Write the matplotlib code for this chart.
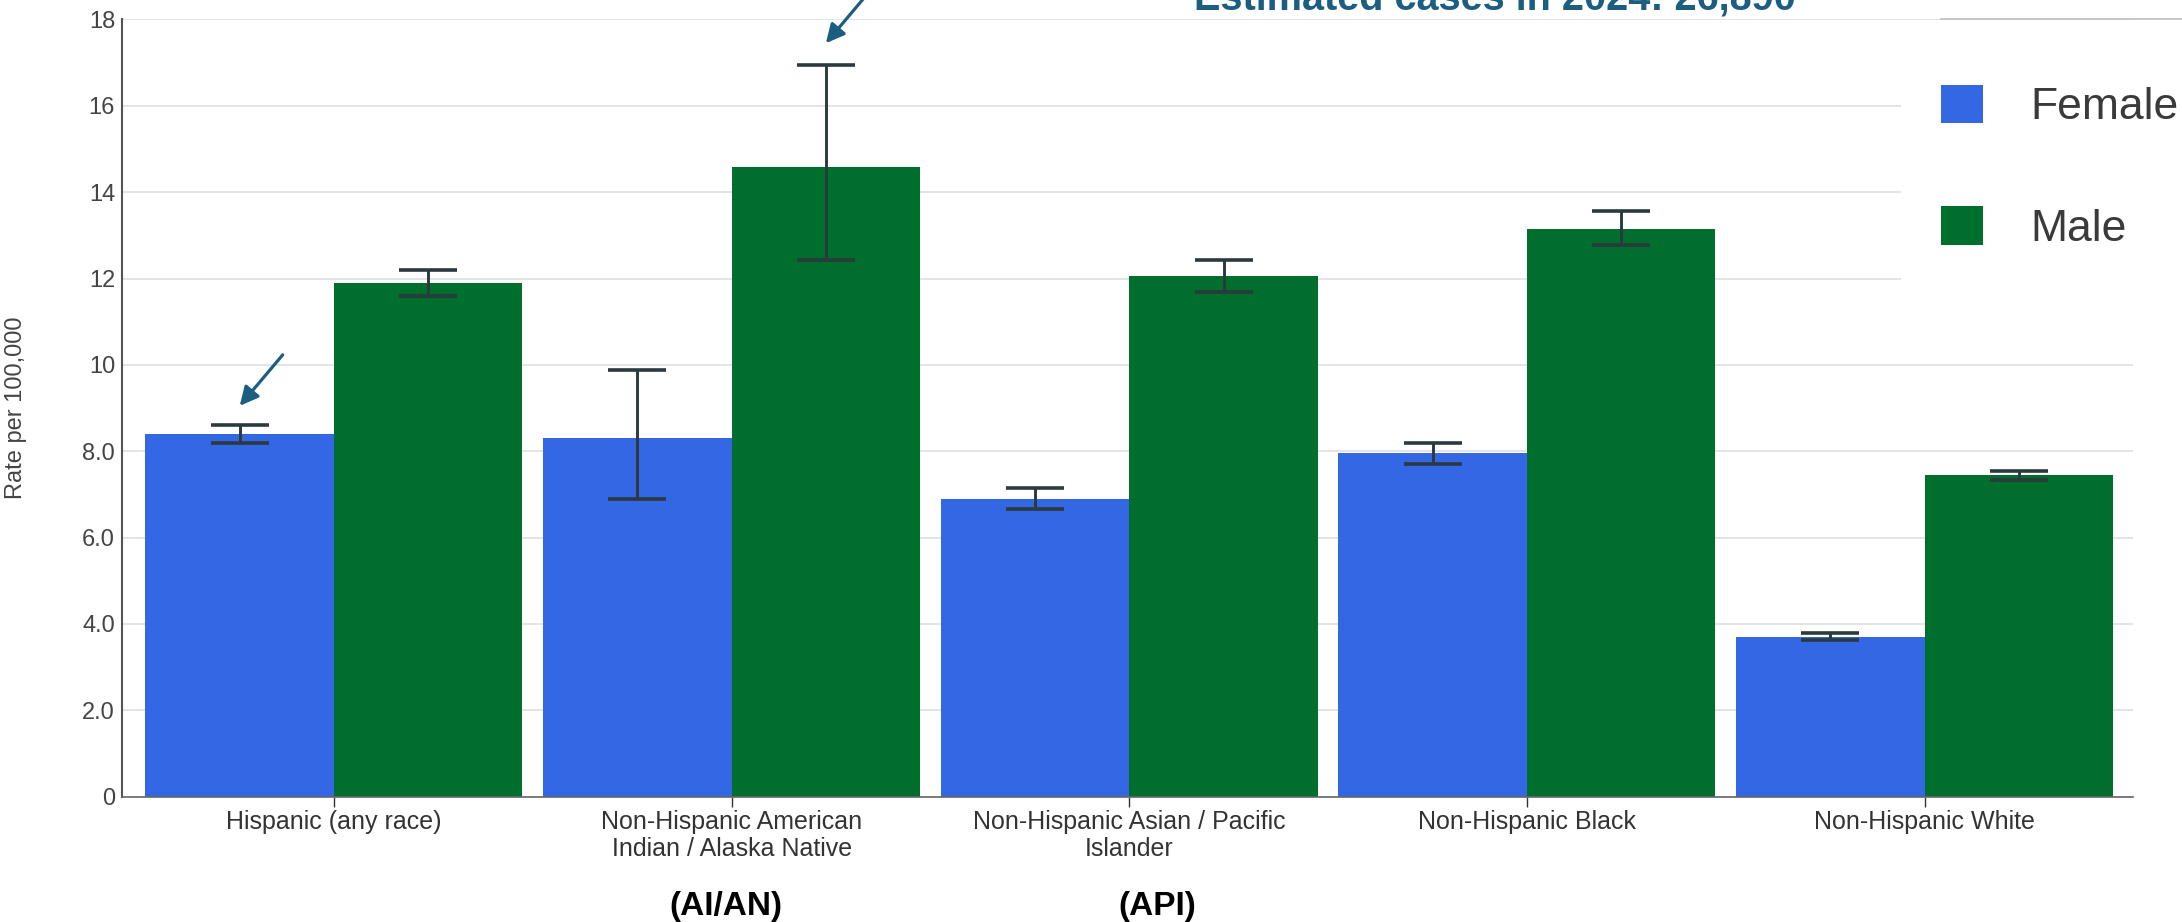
'''
Bar chart of rates per 100,000 by race/ethnicity and sex,
    with 95% interval error bars
'''

import numpy as np
import matplotlib
matplotlib.use("Agg")
import matplotlib.pyplot as plt
from matplotlib.patches import Rectangle
from matplotlib.lines import Line2D

plt.rcParams['font.family'] = ['Liberation Sans', 'DejaVu Sans']

categories = ["Hispanic (any race)",
              "Non-Hispanic American\nIndian / Alaska Native",
              "Non-Hispanic Asian / Pacific\nIslander",
              "Non-Hispanic Black",
              "Non-Hispanic White"]

female = [8.4, 8.3, 6.9, 7.95, 3.7]
female_lo = [8.2, 6.9, 6.67, 7.7, 3.63]
female_hi = [8.6, 9.87, 7.15, 8.18, 3.78]

male = [11.9, 14.58, 12.05, 13.15, 7.45]
male_lo = [11.6, 12.43, 11.68, 12.77, 7.33]
male_hi = [12.2, 16.95, 12.43, 13.56, 7.55]

series_names = ["Female", "Male"]
yticks = [0, 2, 4, 6, 8, 10, 12, 14, 16, 18]
ytick_labels = ["0", "2.0", "4.0", "6.0", "8.0", "10", "12", "14", "16", "18"]

title_text = "Estimated cases in 2024: 26,890"
abbrevs = ["(AI/AN)", "(API)"]

W, H = 2182, 922
blue = "#3367e3"
green = "#006f2e"
err_col = "#2a3a3d"
teal = "#1b5e82"


def errs(vals, lo, hi):
    vals = np.array(vals)
    return [vals - np.array(lo), np.array(hi) - vals]


def plotBars(fig):

    ax = fig.add_axes([122 / W, 1 - 796.5 / H, (2133 - 122) / W, (796.5 - 19.5) / H])

    x = np.arange(len(categories))
    w = 0.474
    ekw = dict(ecolor=err_col, elinewidth=2.1, capsize=21, capthick=2.6)

    bf = ax.bar(x - w / 2, female, w, color=blue, yerr=errs(female, female_lo, female_hi),
                error_kw=ekw, zorder=2)
    bm = ax.bar(x + w / 2, male, w, color=green, yerr=errs(male, male_lo, male_hi),
                error_kw=ekw, zorder=2)

    ax.set_xlim(-0.533, 4.524)
    ax.set_ylim(0, 18)
    ax.set_yticks(yticks)
    ax.set_yticklabels(ytick_labels)
    ax.set_xticks(x)
    ax.set_xticklabels(categories, linespacing=1.12)

    ax.grid(axis='y', color='#e2e2e2', lw=1.3, zorder=0)
    ax.set_axisbelow(True)
    for s in ['top', 'right']:
        ax.spines[s].set_visible(False)
    ax.spines['left'].set_color('#555555')
    ax.spines['left'].set_linewidth(1.5)
    ax.spines['bottom'].set_color('#666666')
    ax.spines['bottom'].set_linewidth(1.2)

    ax.tick_params(axis='y', length=0, pad=5, labelsize=17, labelcolor='#444444')
    ax.tick_params(axis='x', length=7, width=1, color='#333333', pad=3,
                   labelsize=18, labelcolor='#333333')

    ax.set_ylabel("Rate per 100,000", fontsize=17, color='#444444')
    ax.yaxis.set_label_coords(-0.047, 0.5)

    # arrows pointing at the two highlighted intervals
    arrow = dict(arrowstyle='-|>', color=teal, lw=2.3, mutation_scale=28,
                 shrinkA=0, shrinkB=0)
    ax.annotate('', xy=(x[0] - w / 2, female_hi[0] + 0.45), xytext=(43, 51),
                textcoords='offset pixels', arrowprops=arrow)
    ax.annotate('', xy=(x[1] + w / 2, male_hi[1] + 0.5), xytext=(43, 51),
                textcoords='offset pixels', arrowprops=arrow)

    return ax, bf, bm


def main():

    fig = plt.figure(figsize=(W / 100, H / 100), dpi=100)

    ax, bf, bm = plotBars(fig)

    # white box behind the legend
    fig.add_artist(Rectangle((1901 / W, 1 - 300 / H), (W - 1901) / W, (300 - 22) / H,
                             transform=fig.transFigure, facecolor='white',
                             edgecolor='none', zorder=3))
    fig.add_artist(Line2D([1941 / W, 1.0], [1 - 19 / H, 1 - 19 / H], color='#c4c4c4',
                          lw=1.3, transform=fig.transFigure, zorder=4))

    leg = fig.legend(handles=[bf, bm], labels=series_names, loc='upper left',
                     bbox_to_anchor=(1941 / W, 1 - 85 / H), frameon=False, fontsize=32,
                     handlelength=0.95, handleheight=0.95, handletextpad=1.05,
                     labelspacing=1.75, borderpad=0, borderaxespad=0,
                     labelcolor='#3a3a3a')
    leg.set_zorder(5)

    fig.text(1495 / W, 1 - 9.5 / H, title_text, ha='center', va='baseline',
             fontsize=28.5, fontweight='bold', color=teal)

    fig.text(726 / W, 1 - 906 / H, abbrevs[0], ha='center', va='center',
             fontsize=24, fontweight='bold', color='black')
    fig.text(1157 / W, 1 - 906 / H, abbrevs[1], ha='center', va='center',
             fontsize=24, fontweight='bold', color='black')

    fig.savefig("out.png", dpi=100, facecolor='white')

    return

main()
